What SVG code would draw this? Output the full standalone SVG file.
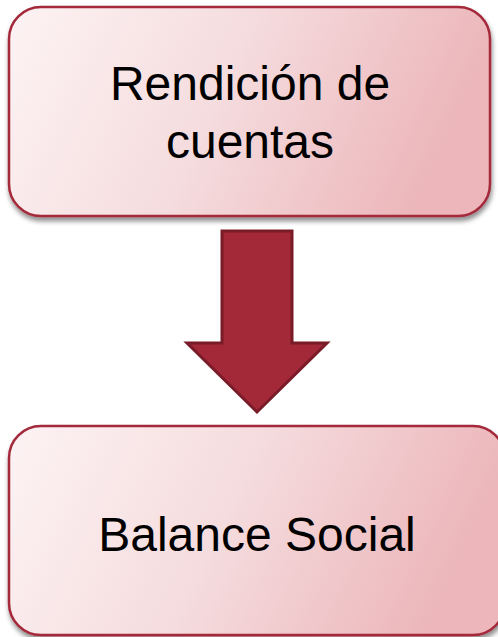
<svg xmlns="http://www.w3.org/2000/svg" width="498" height="637" viewBox="0 0 498 637">
  <defs>
    <linearGradient id="boxFill" x1="0" y1="0" x2="1" y2="0.2">
      <stop offset="0" stop-color="#fdf3f4"/>
      <stop offset="0.5" stop-color="#f5dcde"/>
      <stop offset="1" stop-color="#ecb6ba"/>
    </linearGradient>
    <filter id="shadow" x="-5%" y="-5%" width="112%" height="115%">
      <feGaussianBlur in="SourceAlpha" stdDeviation="2.5"/>
      <feOffset dx="1" dy="4" result="b"/>
      <feComponentTransfer><feFuncA type="linear" slope="0.45"/></feComponentTransfer>
      <feMerge><feMergeNode/><feMergeNode in="SourceGraphic"/></feMerge>
    </filter>
    <style>
      .box { fill: url(#boxFill); stroke: #a42a3b; stroke-width: 2.5; filter: url(#shadow); }
      .label { font-family: "Liberation Sans", Arial, sans-serif; font-size: 48px; fill: #000; text-anchor: middle; }
      .arrow { fill: #a32838; stroke: #7a1b28; stroke-width: 3; stroke-linejoin: miter; }
    </style>
  </defs>
  <g id="node-rendicion">
    <rect class="box" x="9" y="7" width="481" height="209" rx="32" ry="32"/>
    <text class="label" x="250" y="100">Rendición de</text>
    <text class="label" x="250" y="158">cuentas</text>
  </g>
  <g id="connectors">
    <polygon class="arrow" points="222,231 292,231 292,343 327,343 257,412 187,343 222,343"/>
  </g>
  <g id="node-balance">
    <rect class="box" x="9" y="426" width="496" height="209" rx="32" ry="32"/>
    <text class="label" x="257" y="551">Balance Social</text>
  </g>
</svg>
